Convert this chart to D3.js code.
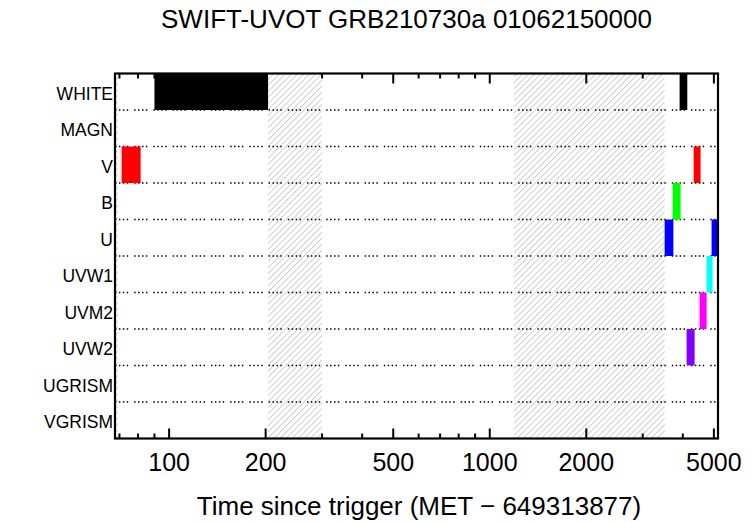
<!DOCTYPE html>
<html>
<head>
<meta charset="utf-8">
<script src="https://cdn.jsdelivr.net/npm/d3@7"></script>
<style>
  body { margin: 0; background: #fff; }
  svg { display: block; font-family: "Liberation Sans", Arial, sans-serif; }
</style>
</head>
<body>
<svg class="chart"></svg>
<script>
// filters, top to bottom
var filters = ['WHITE', 'MAGN', 'V', 'B', 'U', 'UVW1', 'UVM2', 'UVW2', 'UGRISM', 'VGRISM']
var filterColors = ['#000000', '#000000', '#ff0000', '#00ff00', '#0000ff', '#00ffff', '#ff00ff', '#8000ff', '#000000', '#000000']

// exposures: filter, start, stop (s since trigger)
var expFilter = ['WHITE', 'V', 'WHITE', 'V', 'B', 'U', 'U', 'UVW1', 'UVM2', 'UVW2']
var expStart  = [90, 71.1, 3909, 4323, 3719, 3511, 4918, 4746, 4512, 4111]
var expStop   = [203.5, 81.5, 4131, 4544, 3938, 3738, 5400, 4953, 4746, 4354]

// intervals with no data (hatched)
var gapStart = [50, 203.5, 1189]
var gapStop  = [69.2, 299.6, 3511]

var majorTicks = [100, 200, 500, 1000, 2000, 5000]
var minorTicks = [70, 80, 90, 300, 400, 600, 700, 800, 900, 3000, 4000]

var xDomain = [67.8, 5150]

var margin = {left: 115, right: 38, top: 73.5, bottom: 83.5}
var W = 756, H = 522
var w = W - margin.left - margin.right,
    h = H - margin.top - margin.bottom

var svg = d3.select('.chart')
    .attr('width', W)
    .attr('height', H)

var defs = svg.append('defs')

defs.append('clipPath')
    .attr('id', 'plotclip')
  .append('rect')
    .attr('width', w)
    .attr('height', h)

var pat = defs.append('pattern')
    .attr('id', 'hatch')
    .attr('patternUnits', 'userSpaceOnUse')
    .attr('width', 4.3)
    .attr('height', 10)
    .attr('patternTransform', 'rotate(45)')
pat.append('line')
    .attr('x1', 0.5).attr('y1', 0)
    .attr('x2', 0.5).attr('y2', 10)
    .attr('stroke', '#b4b4b4')
    .attr('stroke-width', 0.7)

var x = d3.scaleLog()
    .domain(xDomain)
    .range([0, w])

var y = d3.scaleBand()
    .domain(filters)
    .range([0, h])
    .padding(0)

var g = svg.append('g')
    .attr('transform', 'translate(' + margin.left + ', ' + margin.top + ')')

var plot = g.append('g')
    .attr('clip-path', 'url(#plotclip)')

// hatched gaps
plot.selectAll('rect.gap')
    .data(d3.range(gapStart.length))
  .enter().append('rect')
    .attr('class', 'gap')
    .attr('x', function(i) { return x(gapStart[i]) })
    .attr('width', function(i) { return x(gapStop[i]) - x(gapStart[i]) })
    .attr('y', 0)
    .attr('height', h)
    .attr('fill', 'url(#hatch)')

// dotted row separators
plot.selectAll('line.sep')
    .data(filters.slice(1))
  .enter().append('line')
    .attr('class', 'sep')
    .attr('x1', 0)
    .attr('x2', w)
    .attr('y1', function(d) { return y(d) })
    .attr('y2', function(d) { return y(d) })
    .attr('stroke', '#000')
    .attr('stroke-width', 1.3)
    .attr('stroke-dasharray', '1.5,2.4,1.5,2.4,1.5,2.4,1.5,6')

// exposure bars
plot.selectAll('rect.exp')
    .data(d3.range(expFilter.length))
  .enter().append('rect')
    .attr('class', 'exp')
    .attr('x', function(i) { return x(expStart[i]) })
    .attr('width', function(i) { return x(expStop[i]) - x(expStart[i]) })
    .attr('y', function(i) { return y(expFilter[i]) })
    .attr('height', y.bandwidth())
    .attr('fill', function(i) { return filterColors[filters.indexOf(expFilter[i])] })

// ticks on bottom and top
var allTicks = majorTicks.map(function(d) { return {v: d, len: 10} })
    .concat(minorTicks.map(function(d) { return {v: d, len: 5} }))

g.selectAll('line.tickb')
    .data(allTicks)
  .enter().append('line')
    .attr('x1', function(d) { return x(d.v) })
    .attr('x2', function(d) { return x(d.v) })
    .attr('y1', h)
    .attr('y2', function(d) { return h - d.len })
    .attr('stroke', '#000')
    .attr('stroke-width', 2)

g.selectAll('line.tickt')
    .data(allTicks)
  .enter().append('line')
    .attr('x1', function(d) { return x(d.v) })
    .attr('x2', function(d) { return x(d.v) })
    .attr('y1', 0)
    .attr('y2', function(d) { return d.len })
    .attr('stroke', '#000')
    .attr('stroke-width', 2)

// filter labels
g.selectAll('text.ylab')
    .data(filters)
  .enter().append('text')
    .attr('x', -2)
    .attr('y', function(d) { return y(d) + y.bandwidth() / 2 + 8 })
    .attr('text-anchor', 'end')
    .style('font-size', '17.5px')
    .text(function(d) { return d })

// frame
g.append('rect')
    .attr('width', w)
    .attr('height', h)
    .attr('fill', 'none')
    .attr('stroke', '#000')
    .attr('stroke-width', 2.2)

// tick labels
g.selectAll('text.xlab')
    .data(majorTicks)
  .enter().append('text')
    .attr('x', function(d) { return x(d) })
    .attr('y', h + 32)
    .attr('text-anchor', 'middle')
    .style('font-size', '25px')
    .text(function(d) { return d })

svg.append('text')
    .attr('x', 406.5)
    .attr('y', 28)
    .attr('text-anchor', 'middle')
    .style('font-size', '26px')
    .text('SWIFT-UVOT GRB210730a 01062150000')

svg.append('text')
    .attr('x', 419)
    .attr('y', 515)
    .attr('text-anchor', 'middle')
    .style('font-size', '26px')
    .text('Time since trigger (MET \u2212 649313877)')
</script>
</body>
</html>
